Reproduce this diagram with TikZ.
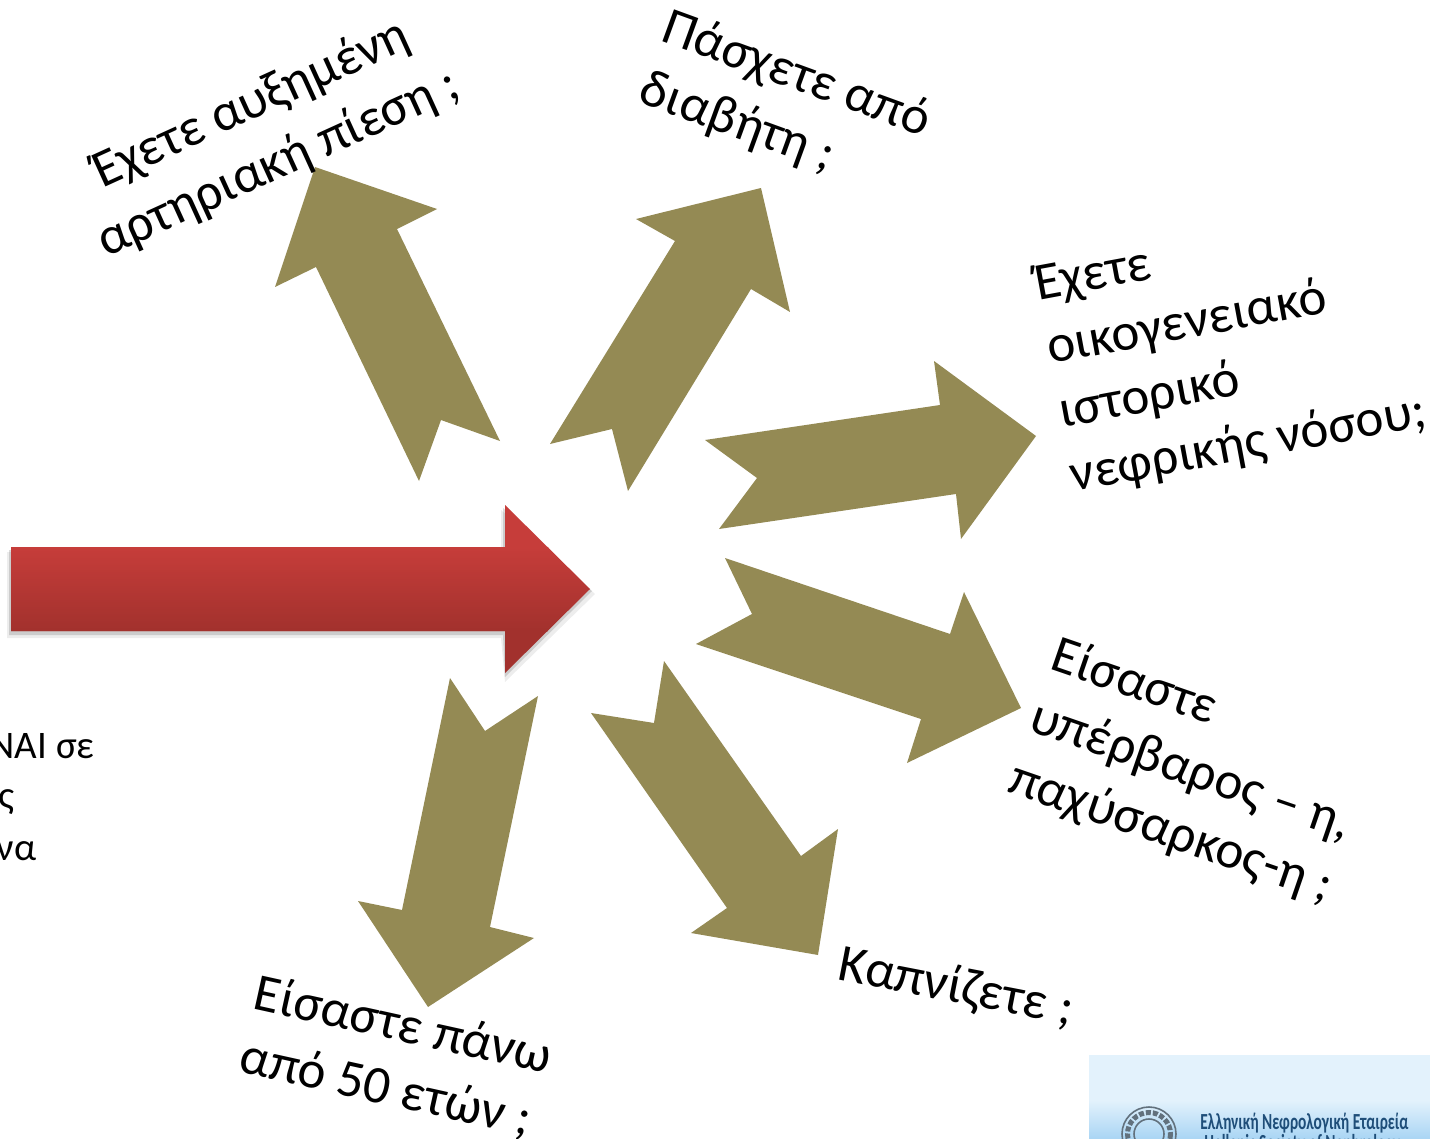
\documentclass[tikz,border=0pt]{standalone}
\usepackage{fontspec}
\setmainfont{Carlito}
\definecolor{olivearrow}{HTML}{948A54}
\definecolor{redtop}{HTML}{C63D3A}
\definecolor{redbot}{HTML}{A2312D}
\definecolor{logotop}{HTML}{E3F2FC}
\definecolor{logobot}{HTML}{A9D5F4}
\definecolor{logotext}{HTML}{1F4E79}
\tikzset{
  x=0.5pt,y=-0.5pt,
  olivearr/.style={fill=olivearrow,draw=none},
  question/.style={font=\fontsize{26.5pt}{32.5pt}\selectfont,align=left,inner sep=0pt,text=black},
  sidetext/.style={font=\fontsize{19.5pt}{26pt}\selectfont,anchor=base east,inner sep=0pt,text=black},
  logoname/.style={font=\fontsize{11.5pt}{12pt}\selectfont\bfseries,anchor=base west,inner sep=0pt,text=logotext}
}
\begin{document}
\begin{tikzpicture}
\useasboundingbox (0,0) rectangle (1430,1139);
\clip (0,0) rectangle (1430,1139);
% red arrow
\fill[black,opacity=.07] (7,552)--(501,552)--(501,510)--(595,594)--(505,682)--(501,638)--(7,638)--cycle;
\fill[black,opacity=.14] (9,550)--(503,550)--(503,508)--(592,591)--(505,677)--(503,635)--(9,635)--cycle;
\begin{scope}
\clip (11,547)--(505,547)--(505,505)--(590,589)--(505,673)--(505,631)--(11,631)--cycle;
\fill[redtop] (0,500) rectangle (600,547.5);
\shade[top color=redtop,bottom color=redbot,middle color=redtop!50!redbot] (0,547) rectangle (600,631);
\fill[redbot] (0,630.5) rectangle (600,680);
\end{scope}
% olive arrows
\fill[olivearr] (315,167)--(437,209)--(397,229)--(500,441)--(441,420)--(419,481)--(316,267)--(275,287)--cycle;
\fill[olivearr] (761,188)--(790,312)--(751,289)--(628,491)--(612,429)--(550,444)--(675,241)--(636,219)--cycle;
\fill[olivearr] (1036,436)--(961,539)--(956,494)--(719,529)--(757,478)--(705,440)--(940,405)--(934,361)--cycle;
\fill[olivearr] (1021,708)--(907,763)--(921,719)--(696,644)--(752,614)--(725,558)--(950,634)--(964,592)--cycle;
\fill[olivearr] (818,955)--(691,933)--(727,908)--(591,713)--(654,723)--(664,661)--(801,856)--(838,829)--cycle;
\fill[olivearr] (428,1007)--(358,901)--(402,910)--(450,678)--(485,731)--(538,696)--(490,927)--(534,938)--cycle;
% questions
\node[question,rotate=24.5,align=center] (q1) at (265,134) {Έχετε αυξημένη\\αρτηριακή πίεση ;};
\node[question,rotate=-20] (q2) at (785,106) {Πάσχετε από\\διαβήτη ;};
\node[question,rotate=10.5] (q3) at (1231,350) {Έχετε\\οικογενειακό\\ιστορικό\\νεφρικής νόσου;};
\node[question,rotate=-19] (q4) at (1192,772) {Είσαστε\\υπέρβαρος – η,\\παχύσαρκος-η ;};
\node[question,rotate=-11] (q5) at (956,988) {Καπνίζετε ;};
\node[question,rotate=-12.5] (q6) at (396,1058) {Είσαστε πάνω\\από 50 ετών ;};
% clipped text on the left
\node[sidetext] (s1) at (95,758) {ΝΑΙ σε};
\node[sidetext] (s2) at (15,808) {ς};
\node[sidetext] (s3) at (37,860) {να};
% logo
\fill[logotop] (1089,1055) rectangle (1430,1101);
\shade[top color=logotop,bottom color=logobot] (1089,1100) rectangle (1430,1139);
\draw[gray!70!logotext,line width=.8pt] (1149,1134) circle (27);
\draw[gray!70!logotext,line width=2.5pt,densely dotted] (1149,1134) circle (21.5);
\draw[gray!70!logotext,line width=.8pt] (1149,1134) circle (15);
\node[logoname] (l1) at (1200,1129) {\scalebox{0.67}[1]{Ελληνική Νεφρολογική Εταιρεία}};
\node[logoname] (l2) at (1204,1150) {\scalebox{0.67}[1]{Hellenic Society of Nephrology}};
\end{tikzpicture}
\end{document}
